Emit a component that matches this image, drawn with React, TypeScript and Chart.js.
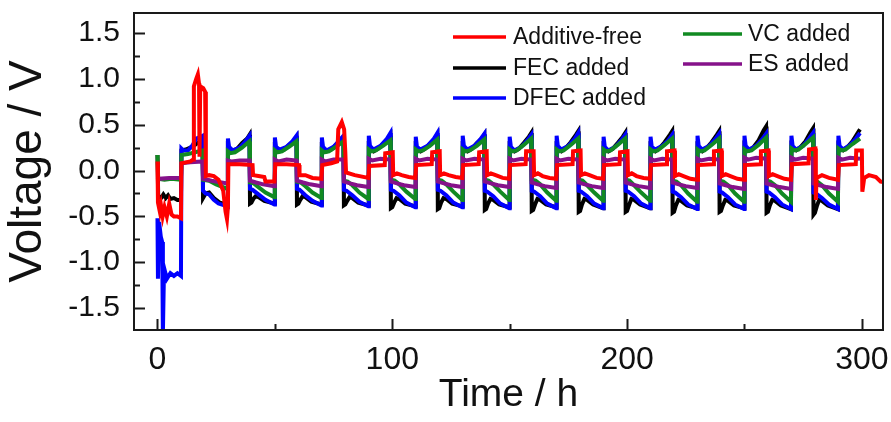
import React, { useEffect, useRef } from 'react';
import { Chart, registerables } from 'chart.js';

Chart.register(...registerables);

type P = [number, number];

const SANS = "'Liberation Sans', Arial, sans-serif";

const X_TITLE = 'Time / h';
const Y_TITLE = 'Voltage / V';
const X_MIN = -10;
const X_MAX = 309;
const Y_MIN = -1.74;
const Y_MAX = 1.72;
const X_STEP = 100;
const Y_STEP = 0.5;

const LABELS = ['Additive-free', 'FEC added', 'DFEC added', 'VC added', 'ES added'];
const COLORS = ['#ff0000', '#000000', '#0000ff', '#118a22', '#86128a'];

// Additive-free
const RED: P[] = [
  [0, 0.1], [0.2, -0.35], [1, -0.45], [1.5, -0.38], [2.2, -0.5], [3, -0.4], [4, -0.5], [5, -0.36], [6, -0.48], [7, -0.5], [8.5, -0.5], [10, -0.52],
  [10.2, 0.08], [12, 0.09], [14, 0.1], [15.2, 0.12], [15.5, 0.92], [16.5, 1.0], [17.2, 1.05], [17.7, 0.95], [17.9, 0.15], [18.2, 0.92], [19.5, 0.9], [20.3, 0.86],
  [20.6, -0.06], [22, -0.05], [24, -0.06], [26, -0.1], [28, -0.22], [29, -0.45], [29.6, -0.53], [30, -0.4],
  [30.2, 0.07], [35, 0.07], [40.5, 0.06], [40.7, -0.05], [43, -0.06], [45.5, -0.07], [46, -0.12], [49.8, -0.12],
  [50.2, 0.07], [55, 0.07], [60.3, 0.06], [60.5, -0.05], [63, -0.05], [66, -0.08], [69.8, -0.09],
  [70.2, 0.06], [74, 0.08], [76.5, 0.1], [77, 0.45], [78.5, 0.53], [79.5, 0.45], [80, 0.2], [80.3, -0.02], [84, -0.05], [89.8, -0.08],
  [90.2, 0.05], [96.8, 0.06], [97, 0.19], [100.2, 0.2], [100.4, -0.05], [102, -0.03], [104, -0.05], [107, -0.07], [109.8, -0.08],
  [110.2, 0.06], [116.8, 0.07], [117, 0.2], [120.2, 0.21], [120.4, -0.05], [122, -0.03], [124, -0.05], [127, -0.07], [129.8, -0.08],
  [130.2, 0.06], [136.8, 0.07], [137, 0.2], [140.2, 0.21], [140.4, -0.05], [142, -0.03], [144, -0.05], [147, -0.08], [149.8, -0.09],
  [150.2, 0.06], [156.8, 0.07], [157, 0.21], [160.2, 0.21], [160.4, -0.05], [162, -0.03], [164, -0.06], [167, -0.08], [169.8, -0.09],
  [170.2, 0.06], [176.8, 0.07], [177, 0.21], [180.2, 0.22], [180.4, -0.05], [182, -0.03], [184, -0.05], [187, -0.08], [189.8, -0.09],
  [190.2, 0.06], [196.8, 0.07], [197, 0.2], [200.2, 0.21], [200.4, -0.05], [202, -0.03], [204, -0.06], [207, -0.08], [209.8, -0.09],
  [210.2, 0.06], [216.8, 0.07], [217, 0.21], [220.2, 0.22], [220.4, -0.06], [222, -0.04], [224, -0.06], [227, -0.09], [229.8, -0.1],
  [230.2, 0.06], [236.8, 0.07], [237, 0.21], [240.2, 0.22], [240.4, -0.06], [242, -0.04], [244, -0.06], [247, -0.09], [249.8, -0.1],
  [250.2, 0.06], [256.8, 0.07], [257, 0.21], [260.2, 0.22], [260.4, -0.06], [262, -0.04], [264, -0.06], [267, -0.09], [269.8, -0.1],
  [270.2, 0.07], [277.3, 0.08], [277.5, 0.23], [280.2, 0.24], [280.4, -0.32], [280.7, -0.08], [283, -0.05], [286, -0.08], [289.8, -0.1],
  [290.2, 0.06], [297.4, 0.07], [297.6, 0.22], [300, 0.22], [300.2, -0.23], [301, -0.08], [303, -0.05], [306, -0.07], [308, -0.12], [310, -0.13],
];

// FEC added
const BLACK: P[] = [
  [0, 0.17], [0.3, -0.27], [1.5, -0.3], [2.5, -0.26], [3.5, -0.3], [4.5, -0.27], [5.5, -0.31], [7, -0.3], [8.5, -0.32], [10, -0.32],
  [10.2, 0.22], [12, 0.23], [14, 0.25], [16, 0.28], [17.5, 0.31], [19.2, 0.31], [19.4, -0.3], [20.5, -0.25], [22, -0.24], [24, -0.3], [26.5, -0.35], [29.8, -0.37],
  [30, 0.25], [30.5, 0.23], [32, 0.21], [34, 0.24], [36, 0.3], [38.2, 0.35], [39.2, 0.39], [39.4, -0.36], [40, -0.35], [40.8, -0.31], [41.8, -0.28], [43, -0.29], [45.5, -0.33], [49.8, -0.36],
  [50, 0.24], [50.5, 0.22], [52, 0.21], [54, 0.23], [56, 0.28], [58.2, 0.32], [59.2, 0.36], [59.4, -0.37], [60, -0.36], [60.8, -0.32], [61.8, -0.28], [63, -0.29], [65.5, -0.34], [69.8, -0.37],
  [70, 0.24], [70.5, 0.22], [72, 0.21], [74, 0.23], [76, 0.28], [78.2, 0.32], [79.2, 0.36], [79.4, -0.38], [80, -0.37], [80.8, -0.33], [81.8, -0.29], [83, -0.3], [85.5, -0.35], [89.8, -0.38],
  [90, 0.25], [90.5, 0.23], [92, 0.21], [94, 0.24], [96, 0.29], [98.2, 0.34], [99.2, 0.38], [99.4, -0.41], [100, -0.4], [100.8, -0.35], [101.8, -0.3], [103, -0.31], [105.5, -0.36], [109.8, -0.39],
  [110, 0.25], [110.5, 0.23], [112, 0.21], [114, 0.24], [116, 0.29], [118.2, 0.35], [119.2, 0.39], [119.4, -0.42], [120, -0.41], [120.8, -0.35], [121.8, -0.3], [123, -0.31], [125.5, -0.36], [129.8, -0.39],
  [130, 0.25], [130.5, 0.23], [132, 0.21], [134, 0.24], [136, 0.3], [138.2, 0.35], [139.2, 0.39], [139.4, -0.43], [140, -0.42], [140.8, -0.36], [141.8, -0.31], [143, -0.32], [145.5, -0.37], [149.8, -0.4],
  [150, 0.25], [150.5, 0.23], [152, 0.21], [154, 0.24], [156, 0.3], [158.2, 0.37], [159.2, 0.41], [159.4, -0.44], [160, -0.43], [160.8, -0.37], [161.8, -0.31], [163, -0.32], [165.5, -0.37], [169.8, -0.4],
  [170, 0.25], [170.5, 0.23], [172, 0.21], [174, 0.25], [176, 0.31], [178.2, 0.39], [179.2, 0.43], [179.4, -0.45], [180, -0.44], [180.8, -0.37], [181.8, -0.31], [183, -0.32], [185.5, -0.37], [189.8, -0.41],
  [190, 0.25], [190.5, 0.23], [192, 0.21], [194, 0.24], [196, 0.3], [198.2, 0.37], [199.2, 0.41], [199.4, -0.45], [200, -0.44], [200.8, -0.38], [201.8, -0.31], [203, -0.32], [205.5, -0.37], [209.8, -0.41],
  [210, 0.25], [210.5, 0.23], [212, 0.21], [214, 0.25], [216, 0.31], [218.2, 0.39], [219.2, 0.43], [219.4, -0.46], [220, -0.45], [220.8, -0.38], [221.8, -0.32], [223, -0.33], [225.5, -0.38], [229.8, -0.41],
  [230, 0.25], [230.5, 0.23], [232, 0.21], [234, 0.25], [236, 0.31], [238.2, 0.39], [239.2, 0.43], [239.4, -0.45], [240, -0.44], [240.8, -0.38], [241.8, -0.32], [243, -0.33], [245.5, -0.38], [249.8, -0.41],
  [250, 0.26], [250.5, 0.24], [252, 0.22], [254, 0.26], [256, 0.33], [258.2, 0.44], [259.2, 0.48], [259.4, -0.46], [260, -0.45], [260.8, -0.38], [261.8, -0.32], [263, -0.33], [265.5, -0.38], [269.8, -0.42],
  [270, 0.26], [270.5, 0.24], [272, 0.22], [274, 0.26], [276, 0.32], [278.2, 0.42], [279.2, 0.46], [279.4, -0.48], [280, -0.46], [280.8, -0.39], [281.8, -0.32], [283, -0.33], [285.5, -0.38], [289.8, -0.42],
  [290, 0.26], [290.5, 0.24], [292, 0.22], [294, 0.26], [296, 0.32], [298.2, 0.41], [299.2, 0.45],
];

// DFEC added
const BLUE: P[] = [
  [0, -0.52], [0.2, -1.18], [0.7, -0.56], [1.4, -0.72], [2, -0.78], [2.3, -1.78], [2.7, -1.2], [3.2, -1.1], [4, -1.18], [5.5, -1.12], [7, -1.15], [8.5, -1.12], [10, -1.15],
  [10.2, 0.24], [11, 0.22], [13, 0.22], [15, 0.28], [16.5, 0.35], [18.5, 0.37], [19.2, 0.38], [19.4, -0.22], [20.5, -0.25], [22, -0.26], [24, -0.32], [26, -0.36], [28.5, -0.38], [29.8, -0.4],
  [30, 0.35], [30.5, 0.26], [32, 0.22], [35, 0.25], [37.5, 0.32], [39.2, 0.38], [39.4, -0.2], [40.5, -0.21], [43, -0.26], [46, -0.32], [49.8, -0.37],
  [50, 0.36], [50.5, 0.26], [52, 0.23], [55, 0.26], [57.5, 0.32], [59.2, 0.38], [59.4, -0.2], [60.5, -0.21], [63, -0.27], [66, -0.33], [69.8, -0.38],
  [70, 0.36], [70.5, 0.26], [72, 0.22], [75, 0.26], [77.5, 0.33], [79.2, 0.38], [79.4, -0.21], [80.5, -0.22], [83, -0.27], [86, -0.34], [89.8, -0.39],
  [90, 0.38], [90.5, 0.27], [92, 0.23], [95, 0.27], [97.5, 0.34], [99.2, 0.41], [99.4, -0.21], [100.5, -0.22], [103, -0.27], [106, -0.35], [109.8, -0.4],
  [110, 0.37], [110.5, 0.26], [112, 0.23], [115, 0.27], [117.5, 0.34], [119.2, 0.41], [119.4, -0.21], [120.5, -0.22], [123, -0.27], [126, -0.35], [129.8, -0.4],
  [130, 0.38], [130.5, 0.27], [132, 0.23], [135, 0.27], [137.5, 0.34], [139.2, 0.4], [139.4, -0.22], [140.5, -0.23], [143, -0.28], [146, -0.36], [149.8, -0.41],
  [150, 0.37], [150.5, 0.26], [152, 0.22], [155, 0.26], [157.5, 0.33], [159.2, 0.39], [159.4, -0.22], [160.5, -0.23], [163, -0.28], [166, -0.36], [169.8, -0.41],
  [170, 0.38], [170.5, 0.27], [172, 0.23], [175, 0.27], [177.5, 0.34], [179.2, 0.41], [179.4, -0.22], [180.5, -0.23], [183, -0.28], [186, -0.36], [189.8, -0.41],
  [190, 0.37], [190.5, 0.26], [192, 0.22], [195, 0.26], [197.5, 0.33], [199.2, 0.39], [199.4, -0.22], [200.5, -0.23], [203, -0.28], [206, -0.36], [209.8, -0.41],
  [210, 0.37], [210.5, 0.26], [212, 0.23], [215, 0.27], [217.5, 0.33], [219.2, 0.39], [219.4, -0.23], [220.5, -0.24], [223, -0.29], [226, -0.37], [229.8, -0.42],
  [230, 0.38], [230.5, 0.27], [232, 0.23], [235, 0.27], [237.5, 0.34], [239.2, 0.4], [239.4, -0.23], [240.5, -0.24], [243, -0.29], [246, -0.37], [249.8, -0.42],
  [250, 0.38], [250.5, 0.27], [252, 0.23], [255, 0.27], [257.5, 0.34], [259.2, 0.4], [259.4, -0.23], [260.5, -0.24], [263, -0.29], [266, -0.37], [269.8, -0.42],
  [270, 0.38], [270.5, 0.27], [272, 0.23], [275, 0.27], [277.5, 0.35], [279.2, 0.41], [279.4, -0.24], [280.5, -0.25], [283, -0.3], [286, -0.37], [289.8, -0.42],
  [290, 0.38], [290.5, 0.27], [292, 0.23], [295, 0.28], [297.5, 0.35], [299.2, 0.41],
];

// VC added
const GREEN: P[] = [
  [0, 0.17], [0.3, -0.09], [3, -0.1], [6, -0.09], [10, -0.1],
  [10.2, 0.17], [13, 0.18], [16, 0.2], [19.2, 0.22], [19.4, -0.1], [22, -0.11], [25, -0.15], [29.8, -0.2],
  [30, 0.21], [31, 0.19], [33, 0.2], [36, 0.25], [39.2, 0.32], [39.4, -0.13], [41, -0.14], [43, -0.18], [46, -0.24], [49.8, -0.29],
  [50, 0.22], [51, 0.2], [53, 0.21], [56, 0.26], [59.2, 0.32], [59.4, -0.12], [61, -0.13], [63, -0.17], [66, -0.24], [69.8, -0.3],
  [70, 0.22], [71, 0.2], [73, 0.21], [76, 0.26], [79.2, 0.32], [79.4, -0.11], [81, -0.12], [83, -0.16], [86, -0.24], [89.8, -0.31],
  [90, 0.23], [91, 0.21], [93, 0.22], [96, 0.27], [99.2, 0.33], [99.4, -0.1], [101, -0.11], [103, -0.15], [106, -0.23], [109.8, -0.31],
  [110, 0.23], [111, 0.21], [113, 0.22], [116, 0.27], [119.2, 0.34], [119.4, -0.1], [121, -0.11], [123, -0.15], [126, -0.23], [129.8, -0.32],
  [130, 0.23], [131, 0.21], [133, 0.22], [136, 0.27], [139.2, 0.34], [139.4, -0.1], [141, -0.11], [143, -0.15], [146, -0.23], [149.8, -0.32],
  [150, 0.23], [151, 0.21], [153, 0.22], [156, 0.28], [159.2, 0.35], [159.4, -0.1], [161, -0.11], [163, -0.15], [166, -0.24], [169.8, -0.33],
  [170, 0.23], [171, 0.21], [173, 0.22], [176, 0.28], [179.2, 0.35], [179.4, -0.1], [181, -0.11], [183, -0.16], [186, -0.24], [189.8, -0.33],
  [190, 0.23], [191, 0.21], [193, 0.22], [196, 0.28], [199.2, 0.35], [199.4, -0.1], [201, -0.11], [203, -0.16], [206, -0.24], [209.8, -0.33],
  [210, 0.23], [211, 0.21], [213, 0.22], [216, 0.28], [219.2, 0.35], [219.4, -0.11], [221, -0.12], [223, -0.16], [226, -0.25], [229.8, -0.34],
  [230, 0.23], [231, 0.21], [233, 0.22], [236, 0.28], [239.2, 0.35], [239.4, -0.11], [241, -0.12], [243, -0.16], [246, -0.25], [249.8, -0.34],
  [250, 0.23], [251, 0.21], [253, 0.22], [256, 0.28], [259.2, 0.36], [259.4, -0.11], [261, -0.12], [263, -0.16], [266, -0.25], [269.8, -0.34],
  [270, 0.24], [271, 0.22], [273, 0.23], [276, 0.29], [279.2, 0.36], [279.4, -0.11], [281, -0.12], [283, -0.16], [286, -0.25], [289.8, -0.34],
  [290, 0.24], [291, 0.22], [293, 0.23], [296, 0.29], [299.2, 0.35],
];

// ES added
const PURPLE: P[] = [
  [0, -0.07], [0.5, -0.09], [5, -0.08], [10, -0.08],
  [10.2, 0.08], [14, 0.09], [19.2, 0.1], [19.4, -0.09], [23, -0.11], [29.8, -0.14],
  [30, 0.11], [31.5, 0.1], [35, 0.11], [39.2, 0.11], [39.4, -0.11], [42, -0.13], [45, -0.15], [49.8, -0.17],
  [50, 0.12], [51.5, 0.1], [55, 0.12], [59.2, 0.11], [59.4, -0.11], [62, -0.13], [65, -0.15], [69.8, -0.17],
  [70, 0.12], [71.5, 0.1], [75, 0.12], [79.2, 0.12], [79.4, -0.12], [82, -0.14], [85, -0.16], [89.8, -0.18],
  [90, 0.13], [91.5, 0.11], [95, 0.13], [99.2, 0.12], [99.4, -0.12], [102, -0.14], [105, -0.16], [109.8, -0.18],
  [110, 0.13], [111.5, 0.11], [115, 0.13], [119.2, 0.12], [119.4, -0.12], [122, -0.14], [125, -0.16], [129.8, -0.18],
  [130, 0.13], [131.5, 0.11], [135, 0.13], [139.2, 0.12], [139.4, -0.12], [142, -0.14], [145, -0.16], [149.8, -0.18],
  [150, 0.13], [151.5, 0.11], [155, 0.13], [159.2, 0.12], [159.4, -0.13], [162, -0.15], [165, -0.17], [169.8, -0.19],
  [170, 0.13], [171.5, 0.11], [175, 0.13], [179.2, 0.12], [179.4, -0.13], [182, -0.15], [185, -0.17], [189.8, -0.19],
  [190, 0.13], [191.5, 0.11], [195, 0.13], [199.2, 0.12], [199.4, -0.13], [202, -0.15], [205, -0.17], [209.8, -0.19],
  [210, 0.13], [211.5, 0.11], [215, 0.13], [219.2, 0.12], [219.4, -0.13], [222, -0.15], [225, -0.17], [229.8, -0.19],
  [230, 0.13], [231.5, 0.11], [235, 0.13], [239.2, 0.12], [239.4, -0.14], [242, -0.16], [245, -0.18], [249.8, -0.2],
  [250, 0.14], [251.5, 0.12], [255, 0.14], [259.2, 0.13], [259.4, -0.14], [262, -0.16], [265, -0.18], [269.8, -0.2],
  [270, 0.14], [271.5, 0.12], [275, 0.14], [279.2, 0.13], [279.4, -0.14], [282, -0.16], [285, -0.18], [289.8, -0.2],
  [290, 0.14], [291.5, 0.12], [295, 0.14], [299.2, 0.13],
];

const SERIES: P[][] = [RED, BLACK, BLUE, GREEN, PURPLE];
// top-most first: red, purple, green, blue, black
const DRAW_ORDER = [0, 4, 3, 2, 1];

const fmtY = (v: number) => (Math.abs(v) < 1e-9 ? 0 : v).toFixed(1);

const framePlugin = {
  id: 'frameTicks',
  afterDatasetsDraw(chart: any) {
    const { ctx, chartArea: a, scales } = chart;
    const xs = scales.x;
    const ys = scales.y;
    ctx.save();
    ctx.strokeStyle = '#1a1a1a';
    ctx.lineWidth = 2;
    ctx.strokeRect(a.left, a.top, a.right - a.left, a.bottom - a.top);
    ctx.beginPath();
    const yv: number[] = ys.ticks.map((t: any) => t.value);
    yv.forEach((v: number, i: number) => {
      const py = Math.round(ys.getPixelForValue(v)) + 0.5;
      ctx.moveTo(a.left, py);
      ctx.lineTo(a.left + 11, py);
      if (i < yv.length - 1) {
        const pm = Math.round(ys.getPixelForValue((v + yv[i + 1]) / 2)) + 0.5;
        ctx.moveTo(a.left, pm);
        ctx.lineTo(a.left + 6, pm);
      }
    });
    const xv: number[] = xs.ticks.map((t: any) => t.value);
    xv.forEach((v: number, i: number) => {
      const px = Math.round(xs.getPixelForValue(v)) + 0.5;
      ctx.moveTo(px, a.bottom);
      ctx.lineTo(px, a.bottom - 11);
      if (i < xv.length - 1) {
        const pm = Math.round(xs.getPixelForValue((v + xv[i + 1]) / 2)) + 0.5;
        ctx.moveTo(pm, a.bottom);
        ctx.lineTo(pm, a.bottom - 6);
      }
    });
    ctx.stroke();
    ctx.restore();
  },
};

const legendPlugin = {
  id: 'insetLegend',
  afterDraw(chart: any) {
    const { ctx } = chart;
    const slots = [
      { x1: 453, x2: 506, tx: 513, y: 37 },
      { x1: 453, x2: 506, tx: 513, y: 68 },
      { x1: 453, x2: 506, tx: 513, y: 98 },
      { x1: 683, x2: 742, tx: 748, y: 34 },
      { x1: 683, x2: 742, tx: 748, y: 64 },
    ];
    ctx.save();
    ctx.font = `23px ${SANS}`;
    ctx.textBaseline = 'middle';
    ctx.textAlign = 'left';
    chart.data.datasets.forEach((ds: any) => {
      const idx = LABELS.indexOf(ds.label);
      const s = slots[idx];
      ctx.strokeStyle = ds.borderColor;
      ctx.lineWidth = 3.5;
      ctx.beginPath();
      ctx.moveTo(s.x1, s.y);
      ctx.lineTo(s.x2, s.y);
      ctx.stroke();
      ctx.fillStyle = '#111';
      ctx.fillText(ds.label, s.tx, s.y + 1);
    });
    ctx.restore();
  },
};

export default function App() {
  const ref = useRef<HTMLCanvasElement>(null);
  useEffect(() => {
    document.body.style.margin = '0';
    const canvas = ref.current;
    if (!canvas) return;
    const datasets = DRAW_ORDER.map((i, k) => ({
      label: LABELS[i],
      data: SERIES[i].map(([x, y]) => ({ x, y })),
      borderColor: COLORS[i],
      backgroundColor: COLORS[i],
      borderWidth: 4,
      pointRadius: 0,
      tension: 0,
      fill: false,
      order: k,
    }));
    const chart = new Chart(canvas, {
      type: 'line',
      data: { datasets },
      options: {
        animation: false,
        responsive: false,
        maintainAspectRatio: false,
        layout: { padding: { top: 13, right: 8, left: 0, bottom: 0 } },
        plugins: { legend: { display: false }, tooltip: { enabled: false } },
        scales: {
          x: {
            type: 'linear',
            min: X_MIN,
            max: X_MAX,
            grid: { display: false, drawTicks: false },
            border: { display: false },
            ticks: {
              stepSize: X_STEP,
              includeBounds: false,
              padding: 11,
              maxRotation: 0,
              color: '#111',
              font: { family: SANS, size: 32 },
            },
            title: {
              display: true,
              text: X_TITLE,
              color: '#111',
              font: { family: SANS, size: 39 },
              padding: { top: 0, bottom: 3 },
            },
            afterFit: (s: any) => {
              s.height = 92;
              s.paddingLeft = 0;
              s.paddingRight = 0;
            },
          },
          y: {
            type: 'linear',
            min: Y_MIN,
            max: Y_MAX,
            grid: { display: false, drawTicks: false },
            border: { display: false },
            ticks: {
              stepSize: Y_STEP,
              includeBounds: false,
              padding: 14,
              color: '#111',
              font: { family: SANS, size: 30 },
              callback: (v: any) => fmtY(Number(v)),
            },
            title: {
              display: true,
              text: Y_TITLE,
              color: '#111',
              font: { family: SANS, size: 46 },
              padding: { top: 1, bottom: 0 },
            },
            afterFit: (s: any) => {
              s.width = 134;
              s.paddingTop = 0;
              s.paddingBottom = 0;
            },
          },
        },
      },
      plugins: [framePlugin, legendPlugin],
    });
    return () => chart.destroy();
  }, []);
  return (
    <div style={{ width: 891, height: 422 }}>
      <canvas ref={ref} width={891} height={422} style={{ display: 'block' }} />
    </div>
  );
}
